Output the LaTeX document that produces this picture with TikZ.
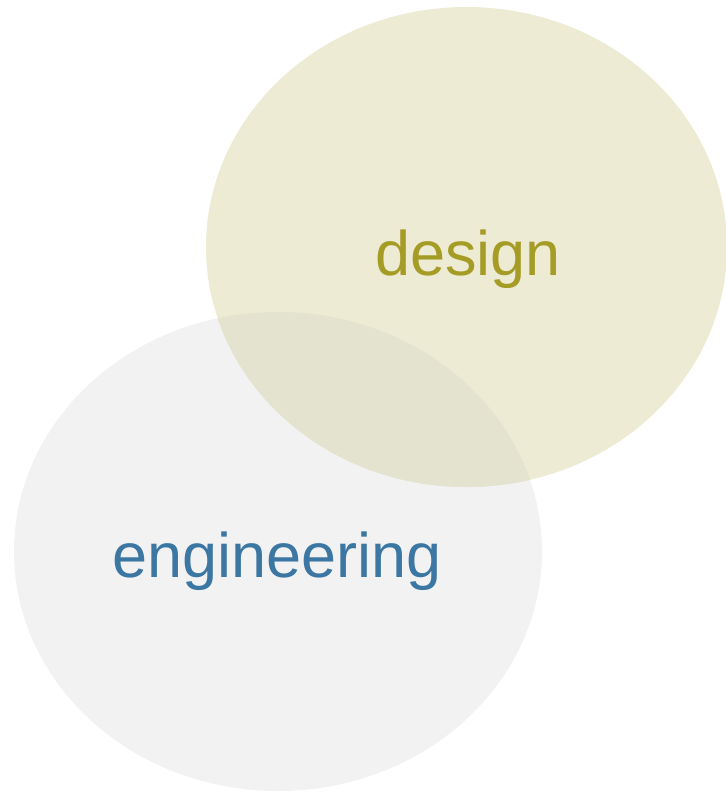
\documentclass[tikz,border=0pt]{standalone}
\usepackage{fontspec}
\setmainfont{Liberation Sans}
\definecolor{desfill}{HTML}{EDEBD3}
\definecolor{engfill}{HTML}{F2F2F2}
\definecolor{ovfill}{HTML}{E4E3CF}
\definecolor{destext}{HTML}{A59C26}
\definecolor{engtext}{HTML}{3C77A3}
\tikzset{lbl/.style={anchor=base, inner sep=0pt, font=\fontsize{63}{70}\selectfont}}
\begin{document}
\begin{tikzpicture}[x=1pt,y=-1pt]
\useasboundingbox (0,0) rectangle (726,793);
\fill[engfill] (278,551.5) ellipse [x radius=264, y radius=239.5];
\fill[desfill] (466.5,247) ellipse [x radius=260.5, y radius=240];
\begin{scope}
\clip (278,551.5) ellipse [x radius=264, y radius=239.5];
\fill[ovfill] (466.5,247) ellipse [x radius=260.5, y radius=240];
\end{scope}
\node[lbl, text=destext] (design) at (468,275) {design};
\node[lbl, text=engtext] (engineering) at (277,577) {engineering};
\end{tikzpicture}
\end{document}
